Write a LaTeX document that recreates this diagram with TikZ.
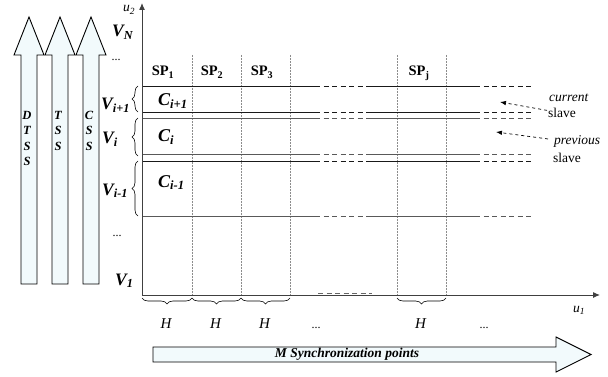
\documentclass[tikz,border=0pt]{standalone}
\usepackage{fontspec}
\setmainfont{Liberation Serif}
\usetikzlibrary{positioning,arrows,arrows.meta,decorations.pathreplacing}
\definecolor{blkfill}{RGB}{242,250,252}
\tikzstyle{blkarrow}=[draw=black, fill=blkfill, line width=0.9pt]
\tikzstyle{blktext}=[inner sep=0pt, anchor=north, align=center,
                    font=\fontsize{12.5}{15.5}\selectfont\bfseries\itshape]
\tikzstyle{vlab}=[inner sep=0pt, anchor=base west, font=\fontsize{17.5}{17.5}\selectfont\bfseries\itshape]
\tikzstyle{clab}=[inner sep=0pt, anchor=base west, font=\fontsize{18}{18}\selectfont\bfseries\itshape]
\tikzstyle{splab}=[inner sep=0pt, anchor=base, font=\fontsize{14.5}{14.5}\selectfont\bfseries]
\tikzstyle{hlab}=[inner sep=0pt, anchor=base, font=\fontsize{15}{15}\selectfont\itshape]
\tikzstyle{dotlab}=[inner sep=0pt, anchor=base, font=\fontsize{12}{12}\selectfont]
\tikzstyle{note}=[inner sep=0pt, anchor=base west, font=\fontsize{13.5}{13.5}\selectfont]
\tikzstyle{axis}=[line width=1pt, black!75, -{Latex[length=7pt,width=6pt]}]
\tikzstyle{vdot}=[densely dotted, black!45, line width=0.5pt]
\tikzstyle{hline}=[line width=0.9pt]
\tikzstyle{hdash}=[line width=0.9pt, dash pattern=on 5pt off 3.5pt]
\tikzstyle{lbrace}=[decorate, decoration={brace, amplitude=6pt}, line width=0.6pt]
\tikzstyle{darr}=[dashed, line width=0.7pt, -{Latex[length=6pt,width=4.5pt]}]

\begin{document}
\begin{tikzpicture}[x=1pt,y=-1pt]
\useasboundingbox (0,0) rectangle (608,377);

% block arrows on the left
\foreach \cx/\name/\txt in {29/DTSS/{D\\T\\S\\S}, 60/TSS/{T\\S\\S}, 91/CSS/{C\\S\\S}} {
  \draw[blkarrow] (\cx-8,284) -- (\cx-8,55) -- (\cx-15,55) -- (\cx,17)
        -- (\cx+15,55) -- (\cx+8,55) -- (\cx+8,284) -- cycle;
  \node (\name) [blktext] at (\cx-2,111) {\txt};
}

% axes
\coordinate (O) at (142,295);
\coordinate (U2END) at (142,3);
\coordinate (U1END) at (600,295);
\node (U2) [note] at (123,12) {\textit{u\textsubscript{2}}};
\node (U1) [note] at (573,312) {\textit{u\textsubscript{1}}};

% synchronization points
\foreach \x in {192,241,290,397,446}
  \draw[vdot] (\x,55) -- (\x,295);
\node (SP1) [splab] at (163,76) {SP\textsubscript{1}};
\node (SP2) [splab] at (212,76) {SP\textsubscript{2}};
\node (SP3) [splab] at (262,76) {SP\textsubscript{3}};
\node (SPJ) [splab] at (419,76) {SP\textsubscript{j}};

% slave lines
\foreach \y/\c in {86/black!90, 112/black!90, 118/black!65, 154/black!65, 161/black!90, 216/black!65} {
  \draw[hline,\c] (142,\y) -- (315,\y);
  \draw[hdash,\c] (315,\y) -- (370,\y);
  \draw[hline,\c] (370,\y) -- (475,\y);
  \draw[hdash,\c] (475,\y) -- (531,\y);
}
\draw[hdash,black!60] (318,293.5) -- (372,293.5);
\draw[axis] (O) -- (U2END);
\draw[axis] (O) -- (U1END);

% cells
\node (CIP) [clab] at (158,106) {C\textsubscript{i+1}};
\node (CI)  [clab] at (158,142) {C\textsubscript{i}};
\node (CIM) [clab] at (158,187) {C\textsubscript{i-1}};

% levels
\node (VN)  [vlab] at (112,37) {V\textsubscript{N}};
\node (DOTU) [dotlab] at (116,61) {...};
\node (VIP) [vlab] at (101,110) {V\textsubscript{i+1}};
\node (VI)  [vlab] at (102,144) {V\textsubscript{i}};
\node (VIM) [vlab] at (102,195) {V\textsubscript{i-1}};
\node (DOTL) [dotlab] at (117,236) {...};
\node (V1)  [vlab] at (115,285) {V\textsubscript{1}};
\draw[lbrace] (138,112) -- (138,86);
\draw[lbrace] (138,156) -- (138,118);
\draw[lbrace] (138,216) -- (138,161);

% periods
\foreach \a/\b/\i in {142/192/1, 192/241/2, 241/290/3, 397/446/4} {
  \draw[lbrace] (\b,298) -- (\a,298);
  \node (H\i) [hlab] at ({(\a+\b)/2-1},328) {H};
}
\node (DOTB1) [dotlab] at (316,328) {...};
\node (DOTB2) [dotlab] at (484,328) {...};

% current / previous slave
\node (CUR)  [note] at (549,102) {\textit{current}};
\node (SLV1) [note] at (548,118) {slave};
\node (PRV)  [note] at (554,145) {\textit{previous}};
\node (SLV2) [note] at (553,163) {slave};
\coordinate (TIP1) at (500,102);
\coordinate (TIP2) at (496,132);
\draw[darr] (SLV1.west) ++(-1,-3) -- (TIP1);
\draw[darr] (PRV.west) ++(-6,-3) -- (TIP2);

% M synchronization points
\draw[blkarrow] (153,347) -- (556,347) -- (556,337) -- (591,354.5)
      -- (556,372) -- (556,362) -- (153,362) -- cycle;
\node (MSYNC) [inner sep=0pt, font=\fontsize{13.5}{13.5}\selectfont\bfseries\itshape]
      at (347,354.5) {M Synchronization points};

\end{tikzpicture}
\end{document}
